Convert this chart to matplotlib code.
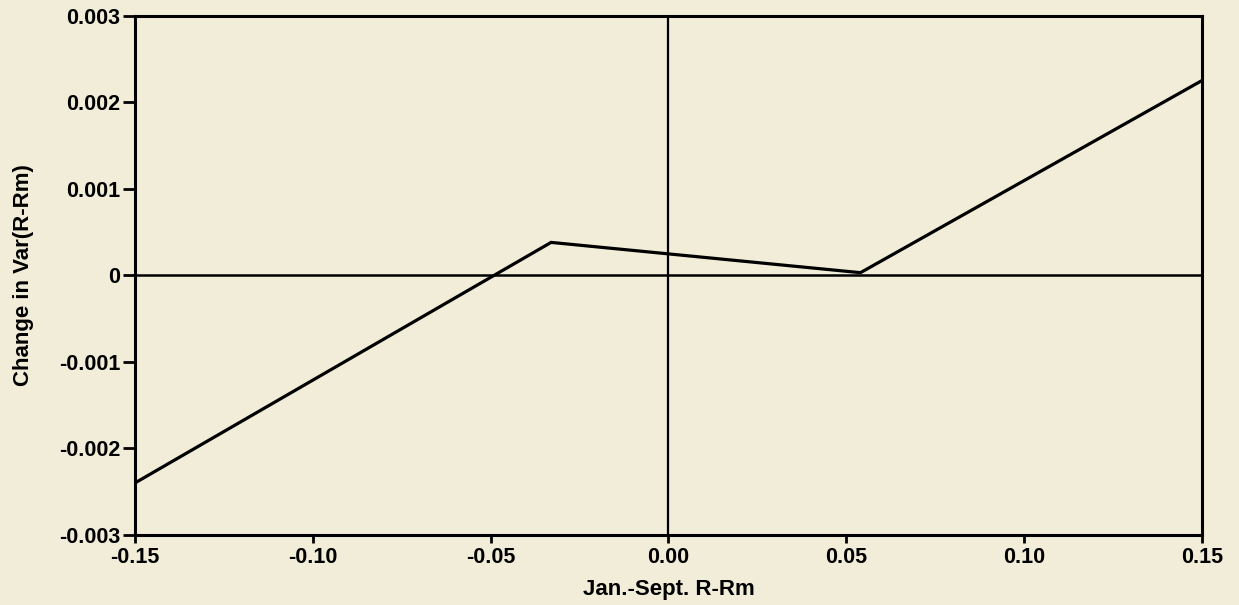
import matplotlib
matplotlib.use("Agg")
import matplotlib.pyplot as plt
from matplotlib.ticker import FuncFormatter

# Piecewise change in variance versus Jan.-Sept. excess return
x_vals = [-0.15, -0.033, 0.054, 0.15]
y_vals = [-0.0024, 0.00038, 0.00003, 0.00225]

x_ticks = [-0.15, -0.10, -0.05, 0.00, 0.05, 0.10, 0.15]
y_ticks = [-0.003, -0.002, -0.001, 0.0, 0.001, 0.002, 0.003]

bg = "#f1edd8"
plt.rcParams["font.family"] = ["Liberation Sans", "DejaVu Sans"]

fig = plt.figure(figsize=(12.39, 6.05), dpi=100, facecolor=bg)
ax = fig.add_axes([0.109, 0.116, 0.861, 0.858], facecolor=bg)

ax.plot(x_vals, y_vals, color="black", lw=2.3, solid_joinstyle="miter")
ax.axhline(0, color="black", lw=1.8)
ax.axvline(0, color="black", lw=1.6)

ax.set_xlim(-0.15, 0.15)
ax.set_ylim(-0.003, 0.003)
ax.set_xticks(x_ticks)
ax.set_yticks(y_ticks)


def fmt_x(v, _):
    return f"{v:.2f}".replace("\u2212", "-")


def fmt_y(v, _):
    if abs(v) < 1e-12:
        return "0"
    return f"{v:.3f}"


ax.xaxis.set_major_formatter(FuncFormatter(fmt_x))
ax.yaxis.set_major_formatter(FuncFormatter(fmt_y))

for s in ax.spines.values():
    s.set_linewidth(2.2)
    s.set_color("black")

ax.tick_params(axis="both", direction="out", width=2, colors="black",
               labelsize=15.5)
ax.tick_params(axis="x", length=5.5, pad=3)
ax.tick_params(axis="y", length=8.5, pad=2)
for lab in ax.get_xticklabels() + ax.get_yticklabels():
    lab.set_fontweight("bold")

ax.set_xlabel("Jan.-Sept. R-Rm", fontsize=16, fontweight="bold", labelpad=8)
ax.set_ylabel("Change in Var(R-Rm)", fontsize=16, fontweight="bold", labelpad=18)

fig.savefig("out.png", dpi=100, facecolor=bg)
